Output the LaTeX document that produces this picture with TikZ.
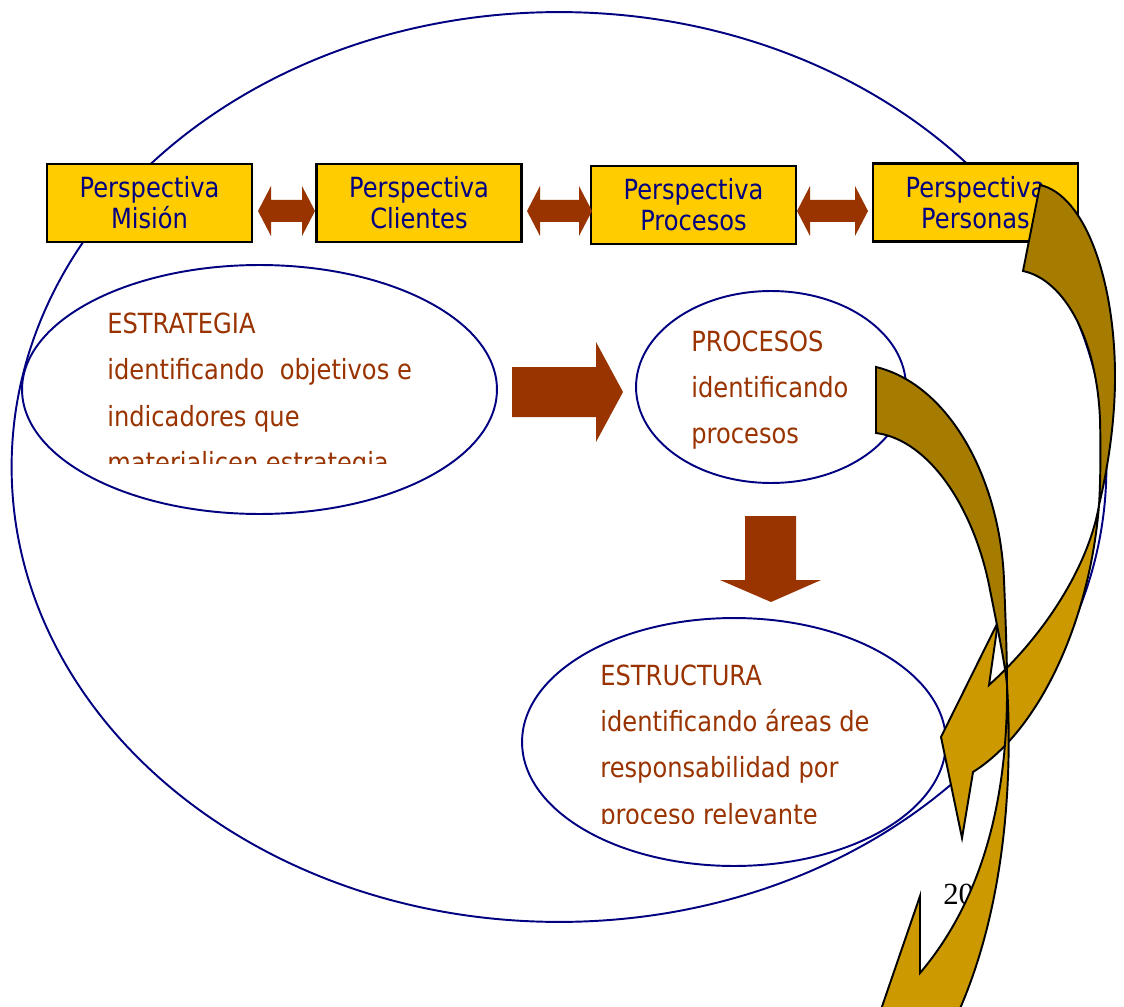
\documentclass[tikz,border=0pt]{standalone}
\usepackage{fontspec}
\setmainfont{DejaVu Sans}[FakeStretch=0.87]
\newfontfamily\pagefont{Liberation Serif}
\usetikzlibrary{shapes.geometric}

\definecolor{navy}{HTML}{000080}
\definecolor{brn}{HTML}{993300}
\definecolor{boxgold}{HTML}{FFCC00}
\definecolor{darkgold}{HTML}{A67C00}
\definecolor{lightgold}{HTML}{CC9900}

\tikzset{
  persp/.style={draw=black, line width=1.2pt, fill=boxgold, minimum width=4.1cm, minimum height=1.56cm,
    align=center, text=navy, inner sep=0pt, font=\fontsize{15.8}{17.6}\selectfont},
  bubble/.style={ellipse, draw=navy, line width=1.1pt, fill=white, inner sep=0pt},
  bubbletext/.style={anchor=base west, text=brn, inner sep=0pt, font=\fontsize{15.8}{18}\selectfont},
  blockarrow/.style={fill=brn},
  backface/.style={fill=darkgold, draw=black, line width=1.1pt},
  frontface/.style={fill=lightgold, draw=black, line width=1.1pt},
}

% double block arrow between two boxes, at height 211
\newcommand{\dblarrow}[2]{%
  \fill[blockarrow] (#1,211) -- ++(13,-25) -- ++(0,14) -- (#2-13,200) -- ++(0,-14) -- (#2,211)
    -- ++(-13,25) -- ++(0,-14) -- (#1+13,222) -- ++(0,14) -- cycle;}

\begin{document}
\begin{tikzpicture}[x=0.02cm, y=-0.02cm]
  \useasboundingbox (0,0) rectangle (1124,1006);
  \clip (0,0) rectangle (1124,1006);

  % big loop
  \node[bubble, fill=none, minimum width=21.9cm, minimum height=18.2cm] (vision) at (559,467) {};

  % perspectives
  \node[persp] (pmision) at (149.5,203) {Perspectiva\\Misión};
  \node[persp] (pclientes) at (419,203) {Perspectiva\\Clientes};
  \node[persp] (pprocesos) at (693.5,205) {Perspectiva\\Procesos};
  \node[persp] (ppersonas) at (975.5,202.5) {Perspectiva\\Personas};
  \dblarrow{258}{315}
  \dblarrow{527}{592}
  \dblarrow{797}{868}

  % bubbles
  \node[bubble, minimum width=9.5cm, minimum height=4.98cm] (estrategia) at (259.5,389.5) {};
  \node[bubble, minimum width=5.4cm, minimum height=3.84cm] (procesos) at (771,387) {};
  \node[bubble, minimum width=8.48cm, minimum height=4.96cm] (estructura) at (734,742) {};

  \begin{scope}
    \clip (0,0) rectangle (1124,463);
    \foreach \txt [count=\i] in {ESTRATEGIA, identificando~ objetivos e, indicadores que, materialicen estrategia}
      \node[bubbletext] (estrategia-\i) at (107,{333.3+46.4*(\i-1)}) {\txt};
  \end{scope}
  \foreach \txt [count=\i] in {PROCESOS, identificando, procesos}
    \node[bubbletext] (procesos-\i) at (691,{351.7+45.7*(\i-1)}) {\txt};
  \begin{scope}
    \clip (0,0) rectangle (1124,823);
    \foreach \txt [count=\i] in {ESTRUCTURA, identificando áreas de, responsabilidad por, proceso relevante}
      \node[bubbletext] (estructura-\i) at (600,{685.7+46.1*(\i-1)}) {\txt};
  \end{scope}

  % block arrows
  \fill[blockarrow] (512,367) -- (596,367) -- (596,342) -- (623,392) -- (596,442) -- (596,417) -- (512,417) -- cycle;
  \fill[blockarrow] (745,516) -- (796,516) -- (796,580) -- (821,580) -- (771,602) -- (720,580) -- (745,580) -- cycle;

  \node[anchor=base west, inner sep=0pt, font=\pagefont\fontsize{17.5}{20}\selectfont] (pagenum) at (943,904) {20};

  % curved arrow from Personas
  \draw[backface] (1040,185) .. controls (1085,195) and (1115,280) .. (1115,377)
    .. controls (1115,430) and (1105,480) .. (1099,505)
    .. controls (1100,490) and (1101,460) .. (1100,420)
    .. controls (1097,340) and (1065,280) .. (1023,271) -- cycle;
  \draw[frontface] (1099,505) .. controls (1090,560) and (1050,630) .. (989,685)
    -- (998,622) -- (941,737) -- (962,838) -- (973,772)
    .. controls (1040,730) and (1090,620) .. (1099,505) -- cycle;

  % curved arrow from procesos
  \draw[backface] (876,367) .. controls (950,385) and (1000,480) .. (1004,580)
    .. controls (1006,630) and (1007,660) .. (1007,685)
    .. controls (1005,665) and (1000,640) .. (990,590)
    .. controls (975,510) and (930,440) .. (876,433) -- cycle;
  \draw[frontface] (1007,685) .. controls (1008,800) and (982,900) .. (920,973)
    -- (920,896) -- (865,1056) -- (945,1056) -- (950,1030)
    .. controls (1000,930) and (1014,800) .. (1007,685) -- cycle;
\end{tikzpicture}
\end{document}
